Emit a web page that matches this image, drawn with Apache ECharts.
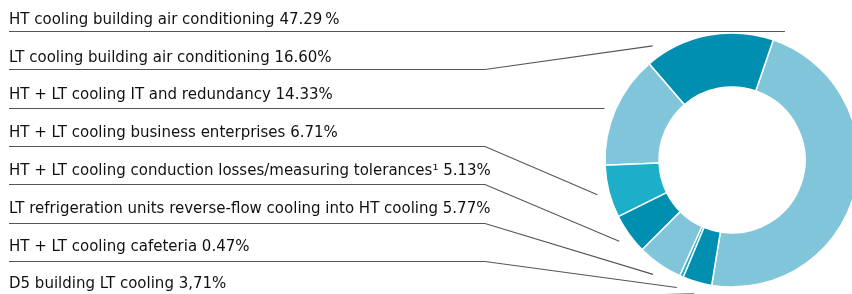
<!DOCTYPE html>
<html>
<head>
<meta charset="utf-8">
<script src="https://cdn.jsdelivr.net/npm/echarts@6/dist/echarts.min.js"></script>
<style>
html, body { margin: 0; padding: 0; background: #fff; }
#main { width: 852px; height: 294px; }
</style>
</head>
<body>
<div id="main"></div>
<script>
// rows top to bottom, the ring runs through them counterclockwise
var labels = [
    'HT cooling building air conditioning',
    'LT cooling building air conditioning',
    'HT + LT cooling IT and redundancy',
    'HT + LT cooling business enterprises',
    'HT + LT cooling conduction losses/measuring tolerances\u00b9',
    'LT refrigeration units reverse-flow cooling into HT cooling',
    'HT + LT cooling cafeteria',
    'D5 building LT cooling'
];
var values = [47.29, 16.60, 14.33, 6.71, 5.13, 5.77, 0.47, 3.71];
var valueText = ['47.29\u2009%', '16.60%', '14.33%', '6.71%', '5.13%', '5.77%', '0.47%', '3,71%'];

var light = '#80c5d9', dark = '#008fb1', bright = '#1daec9';
var colors = [light, dark, light, bright, dark, light, bright, dark];
// where along each slice the leader line ends
var anchorFrac = [0.98, 0.9, 0.5, 0.5, 0.5, 0.5, 0.5, 0.5];

var rowTop = 31, rowGap = 38.33, textBase = 24, textGap = 37.8;
var textLeft = 9, bendX = 485;

var chart = echarts.init(document.getElementById('main'));

var data = labels.map(function (name, i) {
    return { name: name, value: values[i], itemStyle: { color: colors[i] } };
});

chart.setOption({
    animation: false,
    series: [{
        type: 'pie',
        center: [732, 160],
        radius: [73, 127],
        clockwise: false,
        startAngle: 260.8,
        avoidLabelOverlap: false,
        itemStyle: { borderColor: '#fff', borderWidth: 1.5 },
        emphasis: { disabled: true },
        data: data,
        label: {
            show: true,
            color: '#111',
            fontFamily: 'DejaVu Sans',
            fontSize: 15,
            lineHeight: 18,
            formatter: function (p) {
                return labels[p.dataIndex] + ' ' + valueText[p.dataIndex];
            }
        },
        labelLine: {
            show: true,
            smooth: false,
            lineStyle: { color: '#555', width: 1.1 }
        },
        labelLayout: function (p) {
            var i = p.dataIndex;
            var uy = Math.round(rowTop + rowGap * i) + 0.5;
            var lay = chart.getModel().getSeriesByIndex(0).getData().getItemLayout(i);
            var a = lay.startAngle + (lay.endAngle - lay.startAngle) * anchorFrac[i];
            var r = lay.r + 12;
            var ax = lay.cx + r * Math.cos(a);
            var ay = lay.cy + r * Math.sin(a);
            var pts;
            if (i === 0 || i === 2) {
                pts = [[ax, uy], [ax, uy], [textLeft, uy]];
            } else {
                pts = [[ax, ay], [bendX, uy], [textLeft, uy]];
            }
            return {
                x: textLeft,
                y: textBase + textGap * i + 5,
                align: 'left',
                verticalAlign: 'bottom',
                labelLinePoints: pts
            };
        }
    }]
});
</script>
</body>
</html>
